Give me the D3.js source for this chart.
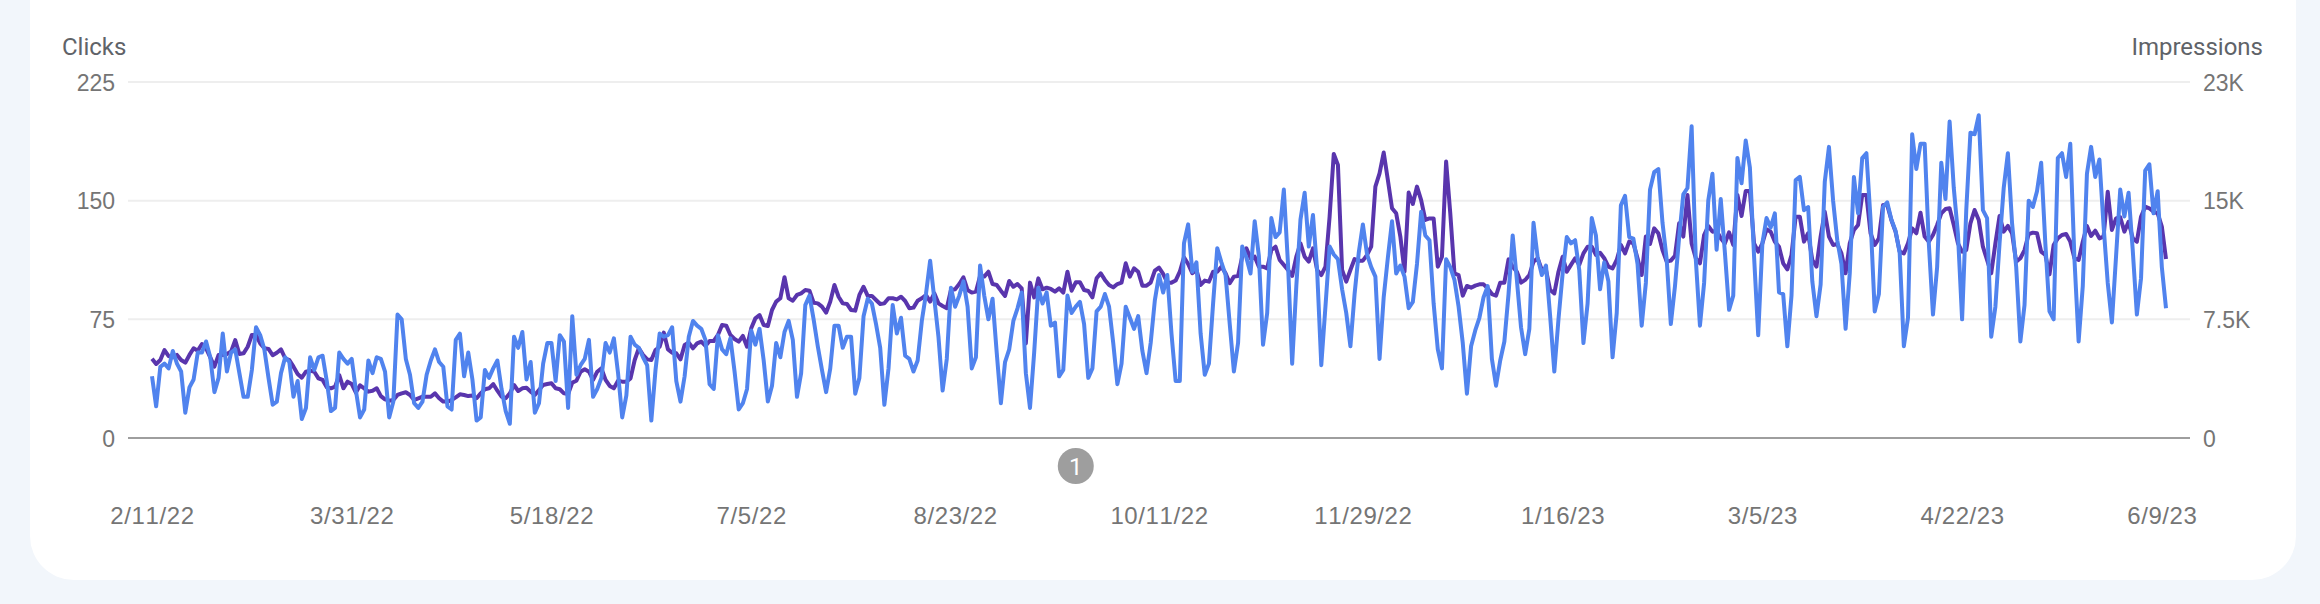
<!DOCTYPE html>
<html>
<head>
<meta charset="utf-8">
<script src="https://cdn.jsdelivr.net/npm/d3@7"></script>
<style>
  html, body { margin: 0; padding: 0; background: #f2f6fb; }
  svg { display: block; font-family: Roboto, sans-serif; }
  .axis text { font-size: 23px; fill: #757575; }
  .axis path { display: none; }
  .dates text { font-size: 24px; font-kerning: none; letter-spacing: 0.6px; }
  .title { font-size: 24px; fill: #5f6368; }
</style>
</head>
<body>
<div id="chart"></div>
<script>
var startDate = "2022-02-11";
var dateLabels = ["2/11/22", "3/31/22", "5/18/22", "7/5/22", "8/23/22", "10/11/22", "11/29/22", "1/16/23", "3/5/23", "4/22/23", "6/9/23"];
var labelDates = ["2022-02-11", "2022-03-31", "2022-05-18", "2022-07-05", "2022-08-23", "2022-10-11", "2022-11-29", "2023-01-16", "2023-03-05", "2023-04-22", "2023-06-09"];
var clickTicks = [0, 75, 150, 225];
var impressionTicks = [0, 7500, 15000, 22500];
var impressionLabels = ["0", "7.5K", "15K", "23K"];
var annotationDates = ["2022-09-21"];

// daily values
var clicks = [
  39,20,45,47,44,55,47,42,16,32,37,54,54,61,51,29,38,66,42,54,56,41,26,26,43,70,65,56,38,21,23,41,51,48,26,36,12,19,51,43,51,52,36,17,19,54,50,47,50,30,
  13,18,49,41,51,50,42,13,23,78,75,50,40,22,19,23,40,49,56,48,45,20,18,62,66,39,54,37,11,13,43,38,44,49,31,17,9,64,57,67,37,48,16,22,47,60,60,36,65,61,
  19,77,40,46,50,62,26,31,38,60,54,63,41,13,27,64,59,57,51,46,11,43,66,64,65,70,36,23,39,64,74,71,69,62,34,31,65,56,53,63,42,18,22,31,68,59,69,49,23,33,
  60,51,67,74,62,26,41,84,90,75,58,43,29,44,71,71,57,64,64,28,38,77,88,85,72,57,21,44,84,66,76,52,50,42,49,74,91,112,88,64,30,50,95,83,90,99,83,44,51,109,
  90,75,88,54,22,48,56,74,82,92,41,19,54,95,85,92,71,73,39,43,90,79,83,86,72,38,44,80,83,91,83,60,34,47,83,76,69,77,55,41,60,87,103,92,103,66,36,36,123,135,
  105,111,66,40,47,85,120,111,103,72,42,60,121,114,104,137,115,59,79,139,127,130,157,110,47,96,138,155,121,141,106,46,83,121,116,113,94,79,58,91,117,135,116,108,102,50,89,114,137,104,
  109,102,82,86,110,143,128,125,85,56,44,113,108,100,83,60,28,58,68,76,89,96,50,33,49,61,91,128,100,70,53,69,136,114,103,109,77,42,75,104,127,123,125,106,60,85,139,128,94,111,
  99,51,79,147,153,127,126,110,71,98,157,168,170,136,113,72,96,127,154,158,197,113,71,98,150,167,119,151,117,81,90,177,161,188,171,115,65,123,139,133,142,92,91,58,90,163,165,144,146,99,
  77,97,162,184,150,125,110,69,104,165,142,177,180,138,80,91,146,149,138,131,117,58,76,192,170,186,186,123,78,108,174,151,200,158,129,75,144,193,192,204,144,139,64,83,123,158,180,136,108,61,
  84,150,146,156,174,123,80,75,177,180,165,186,113,61,96,167,184,165,176,134,98,73,115,157,140,155,119,78,101,169,173,142,156,108,82
];

var impressions = [
  5010,4680,4930,5560,5180,5100,5250,4930,4760,5250,5670,5520,5940,5670,5100,4510,5250,5250,5310,5460,6190,5310,5350,5770,6510,6510,5980,5670,5630,5230,5390,5600,5040,4930,4510,4050,3810,4190,4260,4190,
  3770,3670,3200,3140,3240,3980,3140,3560,3410,2870,3330,3140,2930,2990,3140,2650,2440,2360,2400,2720,2820,2890,2720,2400,2510,2610,2610,2610,2820,2510,2300,2300,2400,2570,2760,2720,2650,2680,2510,2820,
  3080,3140,3410,2990,2610,2510,2820,3350,2970,3140,3180,2930,2720,3030,3350,3410,3460,3140,3080,2820,2780,3500,3620,4190,4340,4190,3670,4190,4400,3670,3290,3140,3620,3560,3560,3770,4930,5670,5250,4970,
  4930,5560,5770,6660,5600,5390,5350,4970,5880,6030,5670,5980,6090,5820,6130,6130,6510,7140,7100,6510,6260,6090,6450,5770,6930,7560,7770,7140,7080,8090,8620,8830,10160,8830,8680,9040,9140,9350,9310,8550,
  8510,8300,7920,8620,9670,8930,8510,8470,8090,8050,9040,9560,8980,8980,8720,8470,8510,8830,8830,8760,8930,8660,8200,8240,8680,8830,9040,8620,9140,8510,8340,8200,9350,9400,9730,10160,9350,9190,9250,10240,
  10200,10510,9730,9670,9310,8980,9920,9560,9730,9460,5980,9820,8890,10090,9400,9500,9420,9250,9460,9190,10510,9310,9840,9840,9350,9290,8890,10090,10410,9990,9670,9520,9730,9820,11040,10200,10720,10510,9630,9630,
  9820,10580,10770,10370,9820,9820,9950,10510,11420,11000,10410,10620,9670,9950,9880,10510,10510,10830,10410,9780,10200,10240,11460,11990,11360,11460,10830,10830,10720,11880,12090,11250,10940,10620,10240,11460,12300,11460,11150,11990,
  10620,10300,10830,13990,17950,17260,10620,9880,10620,11310,11210,11210,11570,12090,15890,16730,18040,16310,14520,14200,12730,10510,15510,14790,15890,15040,13780,13880,13880,10830,11460,17470,14200,10410,10300,9000,9610,9500,9630,9710,
  9710,9460,9100,9000,9820,9820,11290,10830,10510,9820,9990,10300,11150,11360,10620,10620,9350,9140,10510,11460,10510,10940,11360,10940,11670,12090,12090,11570,11710,11360,10830,10720,11250,12200,11670,12410,12300,11360,10300,12730,
  12260,13250,12940,11880,11150,11210,11520,13570,12730,15360,12300,11360,11040,12830,13400,13040,13100,12620,12300,13000,12200,15360,14030,15610,15610,12300,11780,12300,13190,13040,12410,12090,11040,10660,11570,13990,13990,12410,12940,11250,
  10830,12730,14300,12730,12200,12260,11670,10410,12300,13150,13460,15360,15360,12940,12200,12620,14730,14730,13780,13040,11780,11670,12300,13250,12940,14240,12730,12410,12830,13460,14200,14470,14520,13460,12300,11780,11880,13570,14410,13780,
  12090,11250,10410,12300,14030,13040,13400,12940,11150,11360,11880,12890,12980,12940,11780,11570,10340,12200,12620,12830,12890,12410,11360,11250,12410,13400,12770,13100,12620,12730,15570,13150,13880,13950,13040,13670,12620,12410,13990,14620,
  14520,14300,14200,13360,11310
];

var width = 2320, height = 604;
var margin = {top: 82, right: 130, bottom: 166, left: 128};
var linePad = 24;
var parseDay = d3.utcParse("%Y-%m-%d");

var start = parseDay(startDate);
var lastDay = d3.utcDay.offset(start, clicks.length - 1);

var xScale = d3.scaleUtc()
  .domain([start, lastDay])
  .range([margin.left + linePad, width - margin.right - linePad]);

var yClicks = d3.scaleLinear()
  .domain([0, 225])
  .range([height - margin.bottom, margin.top]);

var yImpressions = d3.scaleLinear()
  .domain([0, 22500])
  .range([height - margin.bottom, margin.top]);

var svg = d3.select("#chart").append("svg")
  .attr("width", width)
  .attr("height", height);

// white card, its top runs off the page
svg.append("rect")
  .attr("x", 30)
  .attr("y", -100)
  .attr("width", 2266)
  .attr("height", 680)
  .attr("rx", 44)
  .attr("fill", "#ffffff");

// gridlines
svg.append("g").selectAll("line")
  .data(clickTicks)
  .enter()
  .append("line")
  .attr("x1", margin.left)
  .attr("x2", width - margin.right)
  .attr("y1", function(d) { return yClicks(d); })
  .attr("y2", function(d) { return yClicks(d); })
  .attr("stroke", function(d) { return d === 0 ? "#9e9e9e" : "#eeeeee"; })
  .attr("stroke-width", 2);

var leftAxis = svg.append("g")
  .attr("class", "axis")
  .attr("transform", "translate(" + margin.left + ",0)")
  .call(d3.axisLeft(yClicks).tickValues(clickTicks).tickSize(0).tickPadding(13));
leftAxis.selectAll("text").attr("dy", "0.36em");

var rightAxis = svg.append("g")
  .attr("class", "axis")
  .attr("transform", "translate(" + (width - margin.right) + ",0)")
  .call(d3.axisRight(yImpressions)
    .tickValues(impressionTicks)
    .tickFormat(function(d, i) { return impressionLabels[i]; })
    .tickSize(0)
    .tickPadding(13));
rightAxis.selectAll("text").attr("dy", "0.36em");

var labelTimes = labelDates.map(parseDay);
var bottomAxis = svg.append("g")
  .attr("class", "axis dates")
  .attr("transform", "translate(0,524)")
  .call(d3.axisBottom(xScale)
    .tickValues(labelTimes)
    .tickFormat(function(d, i) { return dateLabels[i]; })
    .tickSize(0)
    .tickPadding(0));
bottomAxis.selectAll("text").attr("y", 0).attr("dy", 0);

svg.append("text")
  .attr("class", "title")
  .attr("x", 62)
  .attr("y", 55)
  .text("Clicks");

svg.append("text")
  .attr("class", "title")
  .attr("x", 2263)
  .attr("y", 55)
  .attr("text-anchor", "end")
  .text("Impressions");

// impressions go underneath, clicks on top
var impressionLine = d3.line()
  .x(function(d, i) { return xScale(d3.utcDay.offset(start, i)); })
  .y(function(d) { return yImpressions(d); });

var clickLine = d3.line()
  .x(function(d, i) { return xScale(d3.utcDay.offset(start, i)); })
  .y(function(d) { return yClicks(d); });

svg.append("path")
  .datum(impressions)
  .attr("d", impressionLine)
  .attr("fill", "none")
  .attr("stroke", "#5935ad")
  .attr("stroke-width", 4)
  .attr("stroke-linejoin", "round");

svg.append("path")
  .datum(clicks)
  .attr("d", clickLine)
  .attr("fill", "none")
  .attr("stroke", "#5083ee")
  .attr("stroke-width", 4)
  .attr("stroke-linejoin", "round");

// annotation marker under the axis
var marker = svg.append("g").selectAll("g")
  .data(annotationDates)
  .enter()
  .append("g")
  .attr("transform", function(d) { return "translate(" + xScale(parseDay(d)) + ",466)"; });

marker.append("circle")
  .attr("r", 18)
  .attr("fill", "#9e9e9e");

marker.append("text")
  .attr("text-anchor", "middle")
  .attr("dy", "0.36em")
  .attr("font-size", 24)
  .attr("fill", "#ffffff")
  .text(function(d, i) { return i + 1; });
</script>
</body>
</html>
